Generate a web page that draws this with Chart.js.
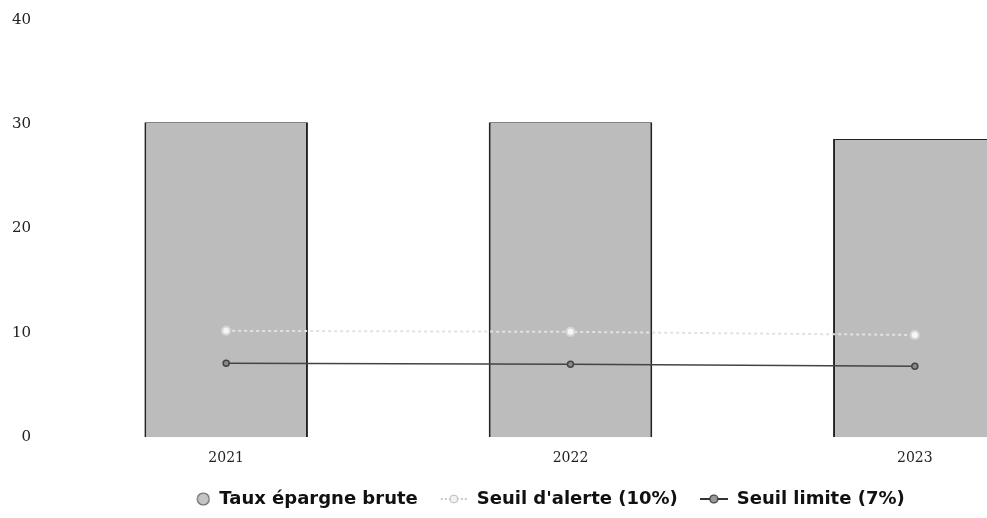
<!DOCTYPE html>
<html>
<head>
<meta charset="utf-8">
<script src="https://cdn.jsdelivr.net/npm/chart.js@4"></script>
<style>
  html, body { margin: 0; padding: 0; background: #fff; overflow: hidden; }
  #wrap { width: 1100px; height: 518px; }
</style>
</head>
<body>
<div id="wrap"><canvas id="myChart"></canvas></div>
<script>
// data
const years = ['2021', '2022', '2023'];
const tauxEpargne = [30.2, 30.2, 28.6];
const seuilAlerte = [10.2, 10.1, 9.8];
const seuilLimite = [7.1, 7.0, 6.8];
const yTicks = [0, 10, 20, 30, 40];

// small legend icons (line + point, like the picture)
function makeIcon(kind) {
  const c = document.createElement('canvas');
  c.width = 28; c.height = 14;
  const ctx = c.getContext('2d');
  if (kind === 'bar') {
    ctx.beginPath();
    ctx.arc(21, 7, 6, 0, Math.PI * 2);
    ctx.fillStyle = '#c4c4c4';
    ctx.fill();
    ctx.lineWidth = 1.2;
    ctx.strokeStyle = '#666';
    ctx.stroke();
  } else if (kind === 'alerte') {
    ctx.strokeStyle = '#b8b8b8';
    ctx.lineWidth = 1.5;
    ctx.setLineDash([2, 2]);
    ctx.beginPath(); ctx.moveTo(1, 7); ctx.lineTo(27, 7); ctx.stroke();
    ctx.setLineDash([]);
    ctx.beginPath(); ctx.arc(14, 7, 4, 0, Math.PI * 2);
    ctx.fillStyle = '#f2f2f2'; ctx.fill();
    ctx.strokeStyle = '#bdbdbd'; ctx.lineWidth = 1; ctx.stroke();
  } else {
    ctx.strokeStyle = '#333';
    ctx.lineWidth = 2;
    ctx.beginPath(); ctx.moveTo(0, 7); ctx.lineTo(28, 7); ctx.stroke();
    ctx.beginPath(); ctx.arc(14, 7, 4, 0, Math.PI * 2);
    ctx.fillStyle = '#999'; ctx.fill();
    ctx.strokeStyle = '#333'; ctx.lineWidth = 1.2; ctx.stroke();
  }
  return c;
}
const icons = [makeIcon('alerte'), makeIcon('limite'), makeIcon('bar')];

const data = {
  labels: years,
  datasets: [
    {
      type: 'line',
      label: "Seuil d'alerte (10%)",
      data: seuilAlerte,
      borderColor: '#e2e2e2',
      backgroundColor: '#f4f4f4',
      borderWidth: 2,
      borderDash: [3, 3],
      pointRadius: 4,
      pointBorderColor: '#d6d6d6',
      pointBackgroundColor: '#f6f6f6',
      order: 1
    },
    {
      type: 'line',
      label: 'Seuil limite (7%)',
      data: seuilLimite,
      borderColor: '#444',
      backgroundColor: '#777',
      borderWidth: 1.5,
      pointRadius: 3,
      pointBorderColor: '#444',
      pointBackgroundColor: '#888',
      order: 0
    },
    {
      type: 'bar',
      label: 'Taux épargne brute',
      data: tauxEpargne,
      backgroundColor: '#bcbcbc',
      borderColor: '#222',
      borderWidth: { left: 2, right: 2, bottom: 1, top: 1 },
      barPercentage: 0.475,
      categoryPercentage: 1,
      order: 2
    }
  ]
};

const config = {
  data,
  options: {
    responsive: true,
    maintainAspectRatio: false,
    animation: false,
    layout: { padding: { left: 0, right: 13, top: 0, bottom: 0 } },
    scales: {
      x: {
        grid: { display: false },
        border: { display: false },
        ticks: { color: '#222', font: { family: 'DejaVu Serif', size: 14 }, padding: 5 },
        afterFit: (scale) => { scale.height = scale.height - 4; }
      },
      y: {
        min: 0,
        max: 40,
        afterBuildTicks: (axis) => { axis.ticks = yTicks.map(v => ({ value: v })); },
        afterFit: (scale) => { scale.width = 54; scale.paddingTop = 20; },
        grid: { display: false },
        border: { display: false },
        ticks: { color: '#222', font: { family: 'DejaVu Serif', size: 15 }, padding: 15 }
      }
    },
    plugins: {
      tooltip: { enabled: false },
      legend: {
        position: 'bottom',
        labels: {
          usePointStyle: true,
          pointStyleWidth: 28,
          color: '#111',
          padding: 22,
          font: { family: 'DejaVu Sans', size: 18, weight: 'bold' },
          generateLabels: (chart) => {
            const items = Chart.defaults.plugins.legend.labels.generateLabels(chart);
            items.forEach(it => { it.pointStyle = icons[it.datasetIndex]; });
            const rank = [1, 2, 0];
            return items.sort((a, b) => rank[a.datasetIndex] - rank[b.datasetIndex]);
          }
        }
      }
    }
  }
};

const myChart = new Chart(document.getElementById('myChart'), config);
</script>
</body>
</html>
